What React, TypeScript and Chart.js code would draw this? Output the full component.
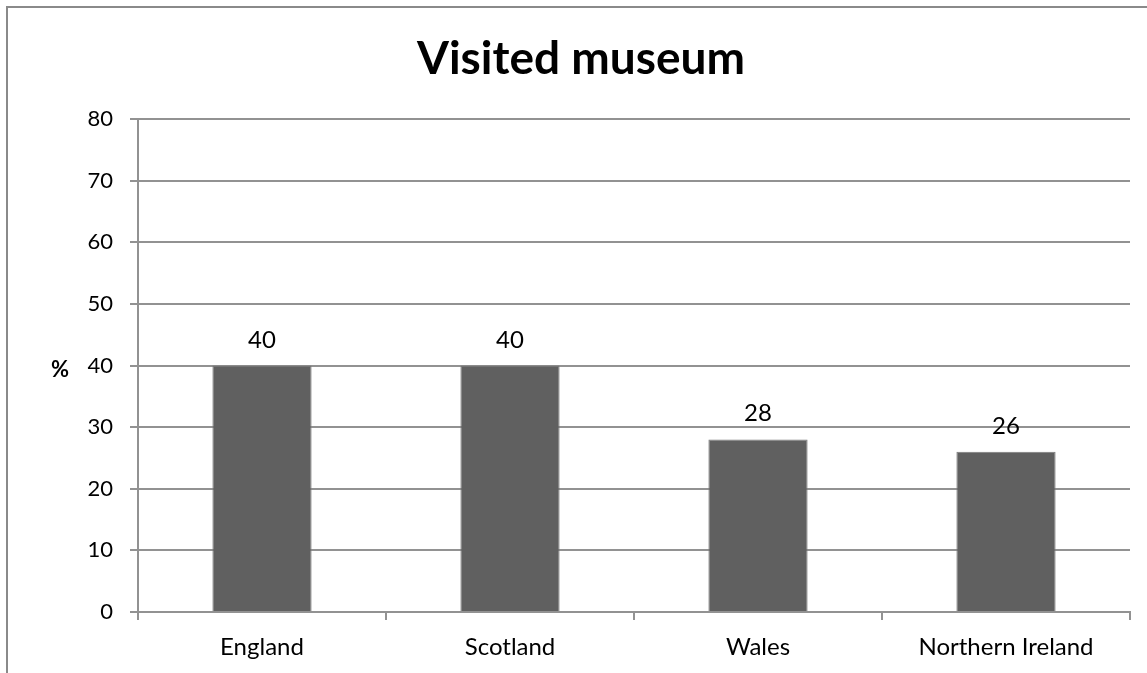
import React, { useEffect, useRef } from "react";
import { Chart, registerables } from "chart.js";

Chart.register(...registerables);

const categories = ["England", "Scotland", "Wales", "Northern Ireland"];
const visitedValues = [40, 40, 28, 26];
const yTicks = [0, 10, 20, 30, 40, 50, 60, 70, 80];
const chartTitle = "Visited museum";
const yAxisLabel = "%";

const FONT = "Lato, 'Open Sans', sans-serif";
const LINE = "#929292";

export default function App() {
  const ref = useRef<HTMLCanvasElement | null>(null);

  useEffect(() => {
    if (!ref.current) return;
    const overlay = {
      id: "overlay",
      afterDatasetsDraw(chart: any) {
        const ctx = chart.ctx;
        ctx.save();
        const meta = chart.getDatasetMeta(0);
        ctx.fillStyle = "#000";
        ctx.font = `24px ${FONT}`;
        ctx.textAlign = "center";
        ctx.textBaseline = "alphabetic";
        meta.data.forEach((bar: any, i: number) => {
          ctx.fillText(String(visitedValues[i]), bar.x, bar.y - 18);
        });
        ctx.font = `bold 46px ${FONT}`;
        ctx.fillText(chartTitle, 581, 74);
        ctx.font = `bold 22px ${FONT}`;
        ctx.textBaseline = "middle";
        ctx.fillText(yAxisLabel, 60, chart.scales.y.getPixelForValue(40) + 4);
        ctx.restore();
      },
    };

    const chart = new Chart(ref.current, {
      type: "bar",
      data: {
        labels: categories,
        datasets: [
          {
            data: visitedValues,
            backgroundColor: "#606060",
            borderColor: "#7a7a7a",
            borderWidth: 1,
            categoryPercentage: 1,
            barPercentage: 0.4,
          },
        ],
      },
      options: {
        animation: false,
        responsive: false,
        maintainAspectRatio: false,
        layout: { padding: { top: 119, right: 2, bottom: 0, left: 0 } },
        plugins: {
          legend: { display: false },
          title: { display: false },
          tooltip: { enabled: false },
        },
        scales: {
          x: {
            offset: true,
            afterFit: (s: any) => {
              s.height = 61;
            },
            grid: {
              offset: true,
              drawOnChartArea: false,
              drawTicks: true,
              tickLength: 8,
              color: LINE,
              lineWidth: 2,
            },
            border: { display: true, color: LINE, width: 2 },
            ticks: {
              color: "#000",
              padding: 13,
              font: { family: FONT, size: 24 },
            },
          },
          y: {
            min: 0,
            max: 80,
            afterFit: (s: any) => {
              s.width = 138;
            },
            afterBuildTicks: (s: any) => {
              s.ticks = yTicks.map((v) => ({ value: v }));
            },
            grid: {
              color: LINE,
              lineWidth: 2,
              tickLength: 8,
            },
            border: { display: true, color: LINE, width: 2 },
            ticks: {
              color: "#000",
              padding: 17,
              font: { family: FONT, size: 22 },
            },
          },
        },
      },
      plugins: [overlay],
    });
    return () => chart.destroy();
  }, []);

  return (
    <div
      style={{
        position: "fixed",
        inset: 0,
        overflow: "hidden",
        background: "#fff",
      }}
    >
      <div
        style={{
          position: "absolute",
          left: 6,
          top: 6,
          width: 1200,
          height: 720,
          border: "2px solid #8a8a8a",
        }}
      />
      <canvas
        ref={ref}
        width={1132}
        height={673}
        style={{ position: "absolute", left: 0, top: 0, width: 1132, height: 673 }}
      />
    </div>
  );
}
